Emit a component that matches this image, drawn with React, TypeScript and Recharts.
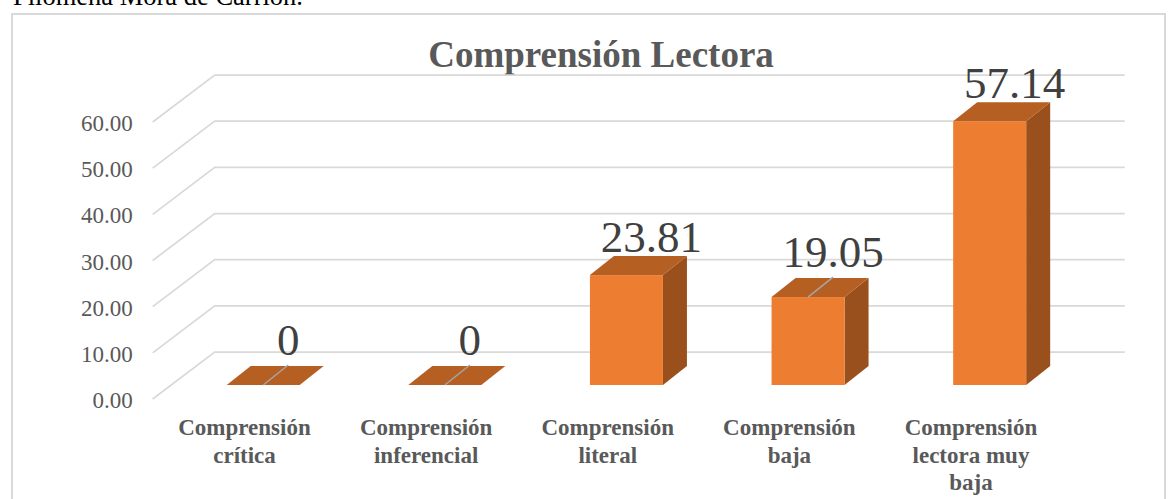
import { BarChart, Bar, XAxis, YAxis, CartesianGrid, LabelList } from "recharts";

// Comprensión lectora — 3D-style column chart

const categories = [
  "Comprensión\ncrítica",
  "Comprensión\ninferencial",
  "Comprensión\nliteral",
  "Comprensión\nbaja",
  "Comprensión\nlectora muy\nbaja",
];
const values = [0, 0, 23.81, 19.05, 57.14];
const labelWithLeader = [true, true, false, true, false];
const yTicks = [0, 10, 20, 30, 40, 50, 60];

const data = categories.map((name, i) => ({ name, value: values[i], leader: labelWithLeader[i] }));

const FONT = "'Liberation Serif', 'Times New Roman', serif";
const DEPTH_X = 24;
const DEPTH_Y = -19;

function Bar3D(props: any) {
  const { x, y, width, height } = props;
  const w = width;
  const h = Math.max(height, 0);
  return (
    <g>
      <polygon
        points={`${x + w},${y} ${x + w + DEPTH_X},${y + DEPTH_Y} ${x + w + DEPTH_X},${y + h + DEPTH_Y} ${x + w},${y + h}`}
        fill="#99501C"
      />
      <polygon
        points={`${x},${y} ${x + w},${y} ${x + w + DEPTH_X},${y + DEPTH_Y} ${x + DEPTH_X},${y + DEPTH_Y}`}
        fill="#B65F23"
      />
      {h > 0 && <rect x={x} y={y} width={w} height={h} fill="#ED7D31" />}
    </g>
  );
}

function ValueLabel(props: any) {
  const { x, y, width, value, index } = props;
  const cx = x + width / 2;
  const leader = labelWithLeader[index];
  return (
    <g>
      {leader && (
        <line x1={cx} y1={y} x2={cx + 25} y2={y - 20} stroke="#A6A6A6" strokeWidth={1.5} />
      )}
      <text
        x={cx + 25}
        y={y - (leader ? 30 : 23)}
        textAnchor="middle"
        fontFamily={FONT}
        fontSize={45}
        fill="#404040"
      >
        {String(value)}
      </text>
    </g>
  );
}

function CategoryTick(props: any) {
  const { x, y, payload } = props;
  const lines = String(payload.value).split("\n");
  return (
    <g>
      {lines.map((line, i) => (
        <text
          key={i}
          x={x - 19}
          y={y + 50 + i * 27.5}
          textAnchor="middle"
          fontFamily={FONT}
          fontWeight="bold"
          fontSize={23}
          fill="#595959"
        >
          {line}
        </text>
      ))}
    </g>
  );
}

function ValueTick(props: any) {
  const { x, y, payload } = props;
  return (
    <text
      x={x - 40}
      y={y + 23}
      textAnchor="end"
      fontFamily={FONT}
      fontSize={23}
      fill="#595959"
    >
      {Number(payload.value).toFixed(2)}
    </text>
  );
}

function GridLine3D(props: any) {
  const { x1, x2, y1 } = props;
  return (
    <path
      d={`M ${x1 - 20} ${y1 + 14} L ${x1 + 42} ${y1 - 33} L ${x2 + 44} ${y1 - 33}`}
      fill="none"
      stroke="#D9D9D9"
      strokeWidth={1.75}
    />
  );
}

export default function App() {
  return (
    <div
      style={{
        position: "absolute",
        left: 0,
        top: 0,
        width: 1175,
        height: 499,
        background: "#fff",
        overflow: "hidden",
      }}
    >
      <svg width={1175} height={499} style={{ position: "absolute", left: 0, top: 0 }}>
        <text x={13} y={5} fontFamily={FONT} fontSize={26.5} fill="#000">
          Filomena Mora de Carrión.
        </text>
        <rect x={12} y={14} width={1153} height={520} fill="none" stroke="#D9D9D9" strokeWidth={2} />
        <text
          x={601}
          y={67}
          textAnchor="middle"
          fontFamily={FONT}
          fontWeight="bold"
          fontSize={37}
          fill="#595959"
        >
          Comprensión Lectora
        </text>
      </svg>
      <div style={{ position: "absolute", left: 0, top: 0 }}>
        <BarChart
          width={1175}
          height={499}
          data={data}
          margin={{ top: 108, right: 94.2, left: 72.7, bottom: 54 }}
        >
          <CartesianGrid vertical={false} horizontal={(p: any) => <GridLine3D key={p.key ?? p.index} {...p} />} />
          <XAxis
            dataKey="name"
            height={60}
            axisLine={false}
            tickLine={false}
            tickSize={0}
            tickMargin={0}
            interval={0}
            tick={<CategoryTick />}
          />
          <YAxis
            width={100}
            domain={[0, 60]}
            ticks={yTicks}
            axisLine={false}
            tickLine={false}
            tickSize={0}
            tickMargin={0}
            tick={<ValueTick />}
          />
          <Bar dataKey="value" barSize={73} shape={<Bar3D />} isAnimationActive={false}>
            <LabelList dataKey="value" content={<ValueLabel />} />
          </Bar>
        </BarChart>
      </div>
    </div>
  );
}
